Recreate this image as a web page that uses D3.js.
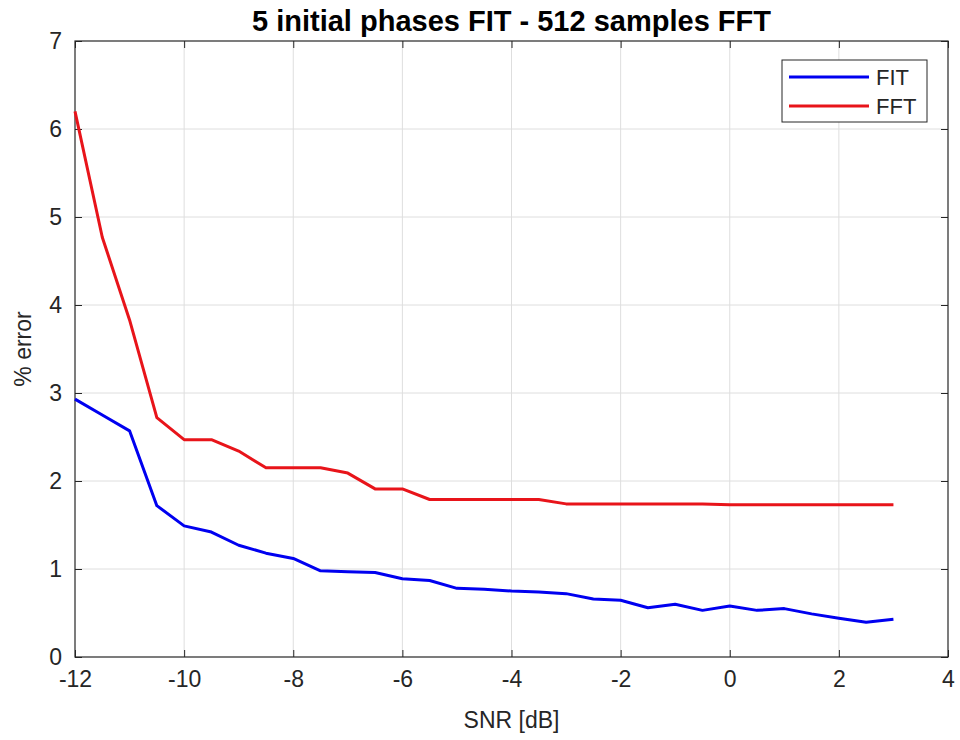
<!DOCTYPE html>
<html>
<head>
<meta charset="utf-8">
<script src="https://cdn.jsdelivr.net/npm/d3@7"></script>
<style>
  body { margin: 0; background: #fff; }
  svg { display: block; font-family: "Liberation Sans", Arial, sans-serif; }
</style>
</head>
<body>
<div id="chart"></div>
<script>
// Data
const snr = [-12, -11.5, -11, -10.5, -10, -9.5, -9, -8.5, -8, -7.5, -7, -6.5, -6, -5.5, -5,
  -4.5, -4, -3.5, -3, -2.5, -2, -1.5, -1, -0.5, 0, 0.5, 1, 1.5, 2, 2.5, 3];
const fitError = [2.93, 2.75, 2.57, 1.72, 1.49, 1.42, 1.27, 1.18, 1.12, 0.98, 0.97, 0.96, 0.89, 0.87, 0.78,
  0.77, 0.75, 0.74, 0.72, 0.66, 0.645, 0.56, 0.60, 0.53, 0.58, 0.53, 0.55, 0.49, 0.44, 0.395, 0.43];
const fftError = [6.2, 4.77, 3.83, 2.72, 2.47, 2.47, 2.34, 2.15, 2.15, 2.15, 2.09, 1.91, 1.91, 1.79, 1.79,
  1.79, 1.79, 1.79, 1.74, 1.74, 1.74, 1.74, 1.74, 1.74, 1.73, 1.73, 1.73, 1.73, 1.73, 1.73, 1.73];
const xTicks = [-12, -10, -8, -6, -4, -2, 0, 2, 4];
const yTicks = [0, 1, 2, 3, 4, 5, 6, 7];

const series = [
  { name: "FIT", values: fitError, color: "#0000f0" },
  { name: "FFT", values: fftError, color: "#e8141a" }
];

const W = 960, H = 740;
const margin = { top: 41, right: 12, bottom: 83, left: 75 };
const width = W - margin.left - margin.right;
const height = H - margin.top - margin.bottom;
const axisColor = "#262626";
const tickLen = 7;
const plain = d => String(d); // hyphen minus like the original

const svg = d3.select("#chart").append("svg")
  .attr("width", W)
  .attr("height", H);

const x = d3.scaleLinear().domain([-12, 4]).range([0, width]);
const y = d3.scaleLinear().domain([0, 7]).range([height, 0]);

const g = svg.append("g")
  .attr("transform", `translate(${margin.left},${margin.top})`);

// grid
g.append("g").selectAll("line")
  .data(xTicks.slice(1, -1))
  .enter().append("line")
  .attr("x1", d => x(d)).attr("x2", d => x(d))
  .attr("y1", 0).attr("y2", height)
  .attr("stroke", "#dedede").attr("stroke-width", 1);

g.append("g").selectAll("line")
  .data(yTicks.slice(1, -1))
  .enter().append("line")
  .attr("y1", d => y(d)).attr("y2", d => y(d))
  .attr("x1", 0).attr("x2", width)
  .attr("stroke", "#dedede").attr("stroke-width", 1);

// axes (ticks pointing inward, MATLAB style)
const xAxis = g.append("g")
  .attr("transform", `translate(0,${height})`)
  .call(d3.axisBottom(x).tickValues(xTicks).tickFormat(plain).tickSizeInner(-tickLen).tickSizeOuter(0).tickPadding(18));
const yAxis = g.append("g")
  .call(d3.axisLeft(y).tickValues(yTicks).tickFormat(plain).tickSizeInner(-tickLen).tickSizeOuter(0).tickPadding(13));
const xTop = g.append("g")
  .call(d3.axisTop(x).tickValues(xTicks).tickSizeInner(-tickLen).tickSizeOuter(0).tickFormat(""));
const yRight = g.append("g")
  .attr("transform", `translate(${width},0)`)
  .call(d3.axisRight(y).tickValues(yTicks).tickSizeInner(-tickLen).tickSizeOuter(0).tickFormat(""));

[xAxis, yAxis, xTop, yRight].forEach(a => {
  a.select(".domain").remove();
  a.selectAll("line").attr("stroke", axisColor);
  a.selectAll("text")
    .attr("fill", axisColor)
    .style("font-size", "23px")
    .style("font-family", "'Liberation Sans', Arial, sans-serif");
});
xAxis.selectAll("text").attr("dy", "0.5em");

// box
g.append("rect")
  .attr("width", width).attr("height", height)
  .attr("fill", "none")
  .attr("stroke", axisColor).attr("stroke-width", 1.2);

// lines
const line = d3.line()
  .x((d, i) => x(snr[i]))
  .y(d => y(d));

series.forEach(s => {
  g.append("path")
    .datum(s.values)
    .attr("fill", "none")
    .attr("stroke", s.color)
    .attr("stroke-width", 3)
    .attr("stroke-linejoin", "round")
    .attr("d", line);
});

// legend
const legend = svg.append("g").attr("transform", "translate(782,60)");
legend.append("rect")
  .attr("width", 145).attr("height", 62)
  .attr("fill", "#fff")
  .attr("stroke", axisColor).attr("stroke-width", 1);
series.forEach((s, i) => {
  const ly = 17 + i * 29;
  legend.append("line")
    .attr("x1", 7).attr("x2", 87)
    .attr("y1", ly).attr("y2", ly)
    .attr("stroke", s.color).attr("stroke-width", 3);
  legend.append("text")
    .attr("x", 94).attr("y", ly)
    .attr("dy", "0.36em")
    .attr("fill", axisColor)
    .style("font-size", "22px")
    .text(s.name);
});

// title and axis labels
svg.append("text")
  .attr("x", margin.left + width / 2)
  .attr("y", 31)
  .attr("text-anchor", "middle")
  .attr("fill", "#000")
  .style("font-size", "29px")
  .style("font-weight", "bold")
  .text("5 initial phases FIT - 512 samples FFT");

svg.append("text")
  .attr("x", margin.left + width / 2)
  .attr("y", 728)
  .attr("text-anchor", "middle")
  .attr("fill", axisColor)
  .style("font-size", "23px")
  .text("SNR [dB]");

svg.append("text")
  .attr("transform", `translate(31,${margin.top + height / 2}) rotate(-90)`)
  .attr("text-anchor", "middle")
  .attr("fill", axisColor)
  .style("font-size", "23px")
  .text("% error");
</script>
</body>
</html>
